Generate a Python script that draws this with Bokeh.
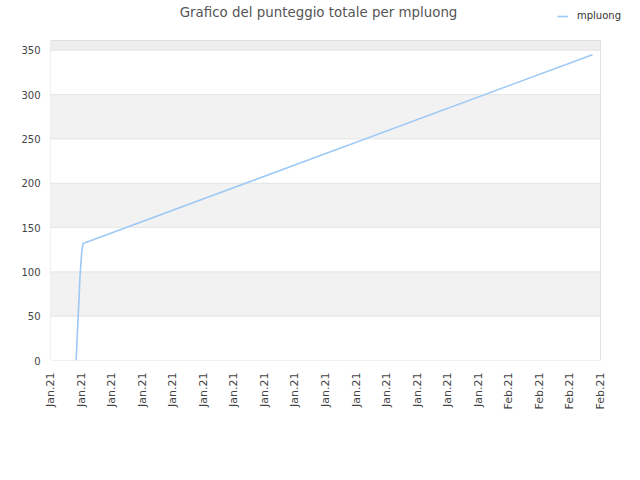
import math
import pandas as pd
from bokeh.plotting import figure
from bokeh.models import (DatetimeTickFormatter, FixedTicker, BoxAnnotation,
                          Legend, LegendItem, Range1d, Label)
from bokeh.embed import file_html
from bokeh.resources import INLINE

# ---- data ----
times = ["2021-01-04 16:20", "2021-01-04 17:30", "2021-01-04 19:10",
         "2021-01-04 20:50", "2021-01-04 22:20", "2021-01-05 00:00",
         "2021-01-05 01:30", "2021-01-05 03:10", "2021-02-07 11:20"]
scores = [0, 20, 45, 70, 95, 112, 125, 132, 345]
series_name = "mpluong"
title_text = "Grafico del punteggio totale per mpluong"

tick_dates = ["2021-01-03", "2021-01-05", "2021-01-07", "2021-01-09",
              "2021-01-11", "2021-01-13", "2021-01-15", "2021-01-17",
              "2021-01-19", "2021-01-21", "2021-01-23", "2021-01-25",
              "2021-01-27", "2021-01-29", "2021-01-31", "2021-02-02",
              "2021-02-04", "2021-02-06", "2021-02-08"]
y_ticks = [0, 50, 100, 150, 200, 250, 300, 350]
x_start, x_end = "2021-01-03", "2021-02-08"
y_min, y_max = 0, 361


def to_ms(s):
    return pd.Timestamp(s).value // 10**6


xs = [to_ms(t) for t in times]
ticks_ms = [to_ms(t) for t in tick_dates]
x0, x1 = to_ms(x_start), to_ms(x_end)

# ---- layout (pixels) ----
W, H = 632, 472
left_b, bottom_b = 50, 112
inner_w, inner_h = 550, 320          # visible plotting box
frame_w, frame_h = W - left_b, H - bottom_b
# the frame reaches the top and right edges so that title and legend fit in it
x_frame_end = x0 + (x1 - x0) * frame_w / inner_w
y_frame_top = y_min + (y_max - y_min) * frame_h / inner_h

p = figure(width=W, height=H, x_axis_type="datetime",
           output_backend="svg", toolbar_location=None,
           x_range=Range1d(x0, x_frame_end),
           y_range=Range1d(y_min, y_frame_top),
           min_border_left=left_b, min_border_right=0,
           min_border_top=0, min_border_bottom=bottom_b)

p.background_fill_color = "white"
p.border_fill_color = "white"
p.outline_line_color = None
p.xgrid.visible = False
p.ygrid.visible = False

# alternating bands between the y ticks
edges = y_ticks + [y_max]
for i in range(len(edges) - 1):
    if i % 2 == 1:
        fill = "#eeeeee" if edges[i + 1] == y_max else "#f2f2f2"
        p.add_layout(BoxAnnotation(left=x0, right=x1, bottom=edges[i],
                                   top=edges[i + 1], fill_color=fill,
                                   fill_alpha=1, line_alpha=0, level="image"))
# grid lines, bounded to the plotting box
for i in range(len(edges) - 1):
    p.add_layout(BoxAnnotation(left=x0, right=x1, bottom=edges[i],
                               top=edges[i + 1], fill_alpha=0,
                               line_color="#d4d4d4", line_width=1,
                               level="underlay"))
# plot border
p.add_layout(BoxAnnotation(left=x0, right=x1, bottom=y_min, top=y_max,
                           fill_alpha=0, line_color="#c4c4c4", line_width=1,
                           level="underlay"))

p.yaxis.ticker = FixedTicker(ticks=y_ticks)
p.xaxis.ticker = FixedTicker(ticks=ticks_ms)
fmt = "%b.%y"
p.xaxis.formatter = DatetimeTickFormatter(
    milliseconds=fmt, seconds=fmt, minsec=fmt, minutes=fmt, hourmin=fmt,
    hours=fmt, days=fmt, months=fmt, years=fmt)
p.xaxis.major_label_orientation = math.pi / 2

for ax in (p.xaxis, p.yaxis):
    ax.axis_line_color = None
    ax.major_tick_line_color = None
    ax.minor_tick_line_color = None
    ax.major_tick_out = 0
    ax.major_tick_in = 0
    ax.major_label_text_font = "DejaVu Sans"
    ax.major_label_text_color = "#444444"
p.xaxis.major_label_text_font_size = "11px"
p.yaxis.major_label_text_font_size = "10px"
p.xaxis.major_label_standoff = 12
p.yaxis.major_label_standoff = 10

r = p.line(xs, scores, line_color="#9cc9f5", line_width=1.6)

# title (screen units from the frame's bottom-left)
p.add_layout(Label(x=268, y=frame_h - 12, x_units="screen", y_units="screen",
                   text=title_text, text_align="center",
                   text_baseline="middle", text_font="DejaVu Sans",
                   text_font_size="13.4px", text_color="#555555"))

legend = Legend(items=[LegendItem(label=series_name, renderers=[r])],
                location=(507, frame_h - 21), orientation="horizontal",
                padding=0, margin=0, spacing=0,
                glyph_width=11, glyph_height=10, label_standoff=9,
                label_text_font="DejaVu Sans", label_text_font_size="10px",
                label_text_color="#333333",
                border_line_alpha=0, background_fill_alpha=0)
p.add_layout(legend)

open("out.html", "w").write(file_html(p, INLINE))
